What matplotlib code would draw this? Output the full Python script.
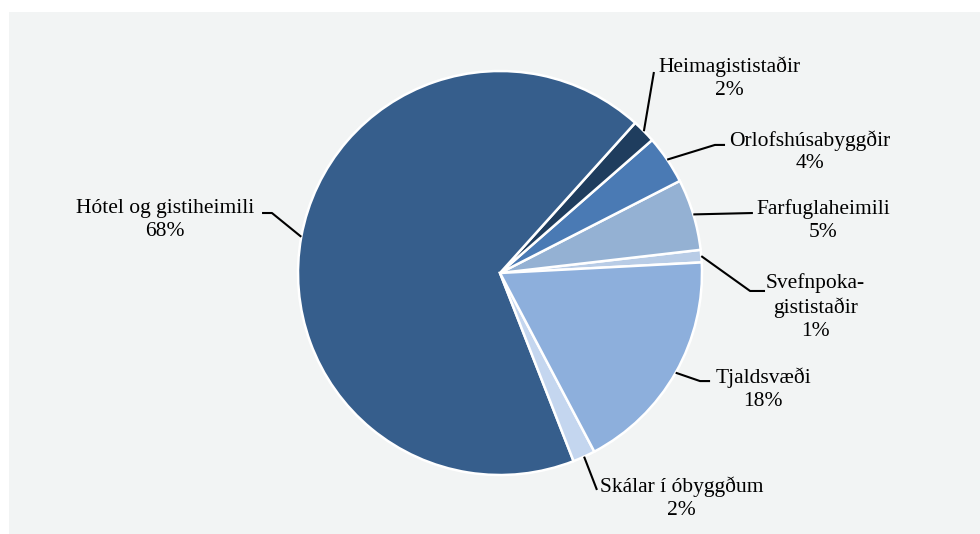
import numpy as np
import matplotlib
matplotlib.use('Agg')
import matplotlib.pyplot as plt
from matplotlib.patches import Rectangle

# slices, counter-clockwise from the right edge
categories = ['Svefnpoka-\ngististaðir', 'Farfuglaheimili', 'Orlofshúsabyggðir',
              'Heimagististaðir', 'Hótel og gistiheimili', 'Skálar í óbyggðum', 'Tjaldsvæði']
shares = [1.0, 5.7, 3.9, 1.9, 67.6, 1.8, 18.1]
pct_labels = ['1%', '5%', '4%', '2%', '68%', '2%', '18%']

colors = ['#B8CCE6', '#94B1D3', '#4A7AB4', '#1F3D5E', '#365E8C', '#C4D6EF', '#8DAFDC']

# label layout in pie radius units: text centre, elbow points of the leader
text_pos = [(1.56, -0.17), (1.60, 0.26), (1.535, 0.60), (1.134, 0.965),
            (-1.658, 0.262), (0.90, -1.114), (1.302, -0.574)]
leader_pts = [[(1.238, -0.089), (1.312, -0.089)],
              [(1.252, 0.297)],
              [(1.064, 0.634), (1.114, 0.634)],
              [(0.762, 0.995)],
              [(-1.129, 0.297), (-1.178, 0.297)],
              [(0.480, -1.074)],
              [(0.990, -0.535), (1.04, -0.535)]]

W, H = 980, 534
fig = plt.figure(figsize=(W / 100, H / 100), dpi=100)
fig.patch.set_facecolor('white')
bg = Rectangle((9 / W, 0), 1, 1 - 12 / H, transform=fig.transFigure,
               facecolor='#F2F4F4', edgecolor='none', zorder=-10)
fig.add_artist(bg)

cx, cy, r = 500, 273, 202
ax = fig.add_axes([(cx - r) / W, (H - cy - r) / H, 2 * r / W, 2 * r / H])
ax.set_zorder(5)
ax.axis('off')

wedges, _ = ax.pie(shares, colors=colors, startangle=3, counterclock=True, radius=1,
                   wedgeprops=dict(edgecolor='white', linewidth=1.8))
ax.set_xlim(-1, 1)
ax.set_ylim(-1, 1)

for w, name, pct, tp, pts in zip(wedges, categories, pct_labels, text_pos, leader_pts):
    mid = np.deg2rad((w.theta1 + w.theta2) / 2)
    xs = [np.cos(mid)] + [p[0] for p in pts]
    ys = [np.sin(mid)] + [p[1] for p in pts]
    ax.plot(xs, ys, color='black', lw=1.5, clip_on=False, solid_capstyle='butt')
    ax.text(tp[0], tp[1], name + '\n' + pct, ha='center', va='center', ma='center',
            fontsize=15.5, family='Liberation Serif', color='black',
            linespacing=1.27, clip_on=False)

fig.savefig('out.png', dpi=100, facecolor=fig.get_facecolor())
